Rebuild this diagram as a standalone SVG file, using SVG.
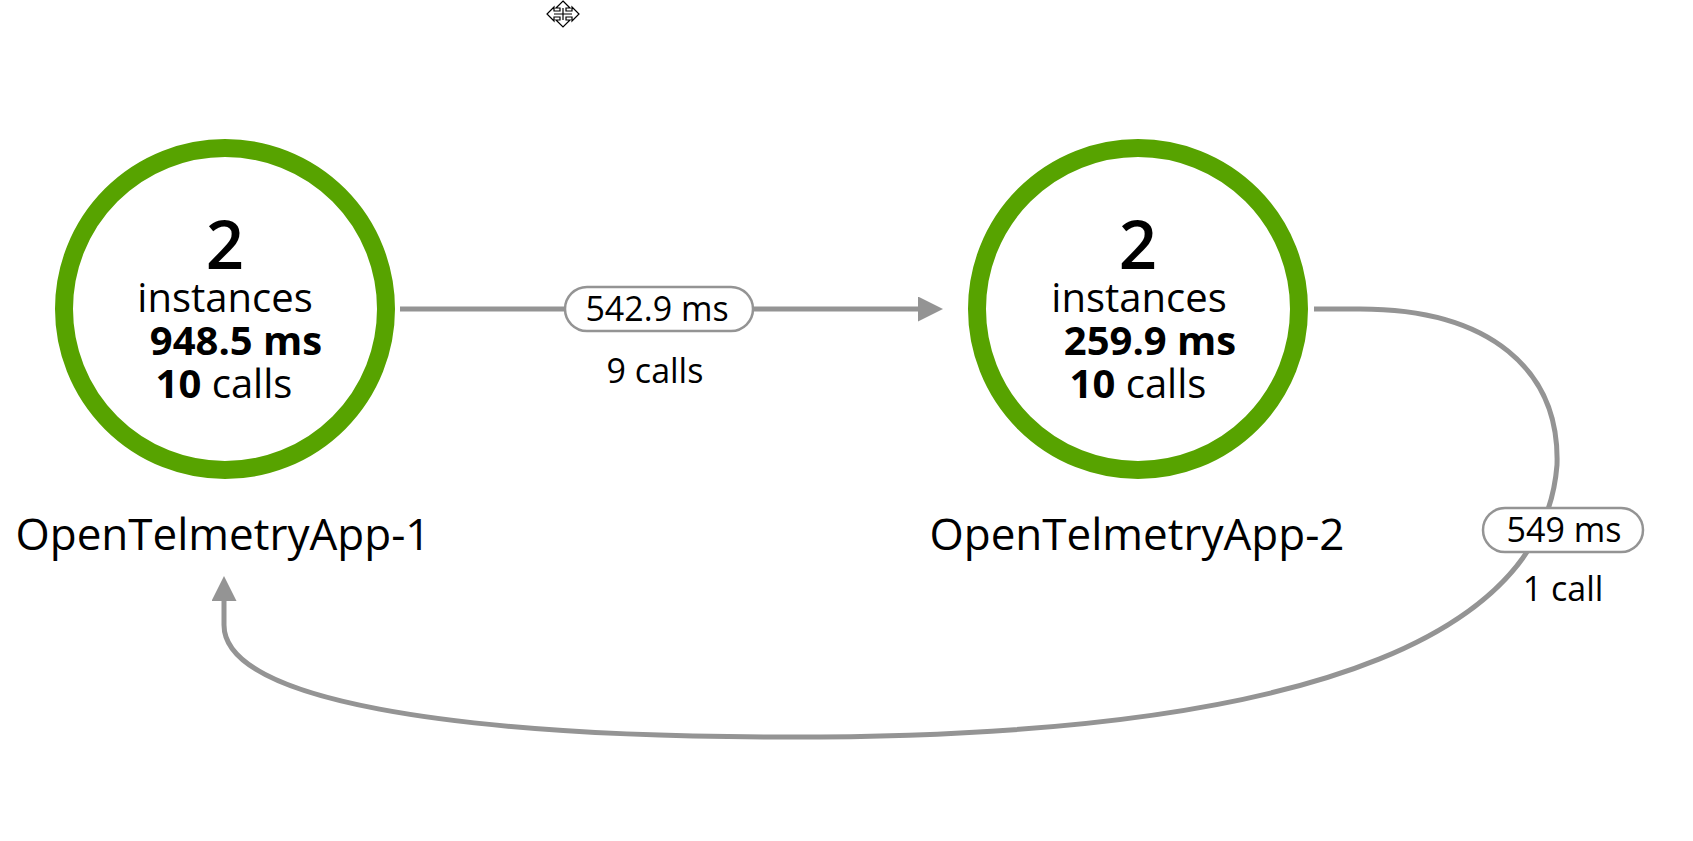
<svg xmlns="http://www.w3.org/2000/svg" width="1693" height="841" viewBox="0 0 1693 841">
<style>
text{font-family:"Open Sans","Noto Sans","DejaVu Sans",sans-serif;fill:#000;text-anchor:middle}
.ring{fill:#fff;stroke:#57a300;stroke-width:18}
.big{font-size:67px;font-weight:600}
.mid{font-size:40px}
.b{font-weight:bold}
.name{font-size:44px}
.edge{fill:none;stroke:#949494;stroke-width:5}
.pill{fill:#fff;stroke:#949494;stroke-width:2.5}
.el{font-size:34px}
</style>
<defs>
<marker id="arr" viewBox="0 0 10 10" refX="0" refY="5" markerWidth="5" markerHeight="5" markerUnits="strokeWidth" orient="auto">
<path d="M0,0 L10,5 L0,10 Z" fill="#949494"/>
</marker>
</defs>
<rect width="1693" height="841" fill="#fff"/>
<g id="cursor" fill="#fff" stroke="#000" stroke-width="1.2">
<path d="M563,1 L570,8 L566,8 L566,11 L572,11 L572,7 L579,14 L572,21 L572,17 L566,17 L566,20 L570,20 L563,27 L556,20 L560,20 L560,17 L554,17 L554,21 L547,14 L554,7 L554,11 L560,11 L560,8 L556,8 Z"/>
<path d="M563,8 V20 M554,14 H572" fill="none"/>
</g>
<g id="connectors">
<path class="edge" d="M400,309 L918,309" marker-end="url(#arr)"/>
<path class="edge" d="M1314,309 L1360,309 C1490,309 1560,370 1557,465 C1545,620 1350,737 790,737 C450,737 224,700 224,625 L224,601" marker-end="url(#arr)"/>
<g id="edge1-label">
<rect class="pill" x="565" y="287" width="188" height="44" rx="22"/>
<text class="el" x="657" y="321">542.9 ms</text>
<text class="el" x="655" y="383">9 calls</text>
</g>
<g id="edge2-label">
<rect class="pill" x="1483" y="508" width="160" height="44" rx="22"/>
<text class="el" x="1564" y="542">549 ms</text>
<text class="el" x="1563" y="601">1 call</text>
</g>
</g>
<g id="node1">
<circle class="ring" cx="225" cy="309" r="161"/>
<text class="big" x="225" y="269">2</text>
<text class="mid" x="225" y="312">instances</text>
<text class="mid b" x="236" y="355">948.5 ms</text>
<text class="mid" x="224" y="398"><tspan class="b">10</tspan> calls</text>
<text class="name" x="223" y="550">OpenTelmetryApp-1</text>
</g>
<g id="node2">
<circle class="ring" cx="1138" cy="309" r="161"/>
<text class="big" x="1138" y="269">2</text>
<text class="mid" x="1139" y="312">instances</text>
<text class="mid b" x="1150" y="355">259.9 ms</text>
<text class="mid" x="1138" y="398"><tspan class="b">10</tspan> calls</text>
<text class="name" x="1137" y="550">OpenTelmetryApp-2</text>
</g>
</svg>
